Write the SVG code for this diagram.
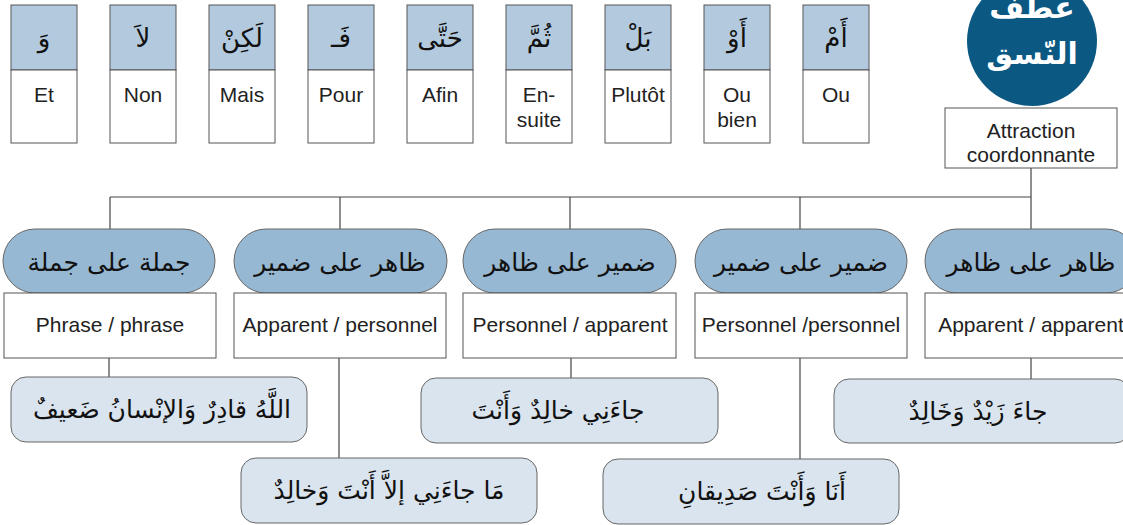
<svg xmlns="http://www.w3.org/2000/svg" width="1123" height="525" viewBox="0 0 1123 525">
  <style>
    .head { fill: #b3cade; stroke: #555; stroke-width: 1; }
    .cell { fill: #fff; stroke: #555; stroke-width: 1; }
    .pill { fill: #97b8d2; stroke: #666; stroke-width: 1; }
    .ex { fill: #d9e4ee; stroke: #666; stroke-width: 1; }
    .lbl { font-family: "Liberation Sans", Arial, sans-serif; font-size: 21px; fill: #222; text-anchor: middle; }
    .ar { font-family: "DejaVu Sans", sans-serif; fill: #111; text-anchor: middle; direction: rtl; }
    .arTop { font-size: 26px; }
    .arPill { font-size: 25px; }
    .arEx { font-size: 25px; }
    .title { font-family: "DejaVu Sans", sans-serif; font-weight: bold; font-size: 30px; fill: #fff; text-anchor: middle; direction: rtl; }
    .wire { fill: none; stroke: #444; stroke-width: 1.2; }
  </style>

  <!-- connectors -->
  <g id="connectors" class="wire">
    <path d="M1031 168 V229"/>
    <path d="M110 197 H1031"/>
    <path d="M110 197 V229"/>
    <path d="M340 197 V229"/>
    <path d="M570 197 V229"/>
    <path d="M800 197 V229"/>
    <path d="M109 358 V377"/>
    <path d="M339 358 V458"/>
    <path d="M571 358 V378"/>
    <path d="M800 358 V459"/>
    <path d="M1031 358 V379"/>
  </g>

  <!-- conjunction cards -->
  <g id="card-wa">
    <rect class="head" x="11" y="5" width="66" height="65"/>
    <rect class="cell" x="11" y="70" width="66" height="73"/>
    <text class="ar arTop" x="44" y="47">وَ</text>
    <text class="lbl" x="44" y="102">Et</text>
  </g>
  <g id="card-la">
    <rect class="head" x="110" y="5" width="66" height="65"/>
    <rect class="cell" x="110" y="70" width="66" height="73"/>
    <text class="ar arTop" x="143" y="47">لاَ</text>
    <text class="lbl" x="143" y="102">Non</text>
  </g>
  <g id="card-lakin">
    <rect class="head" x="209" y="5" width="66" height="65"/>
    <rect class="cell" x="209" y="70" width="66" height="73"/>
    <text class="ar arTop" x="242" y="47">لَكِنْ</text>
    <text class="lbl" x="242" y="102">Mais</text>
  </g>
  <g id="card-fa">
    <rect class="head" x="308" y="5" width="66" height="65"/>
    <rect class="cell" x="308" y="70" width="66" height="73"/>
    <text class="ar arTop" x="341" y="47">فَـ</text>
    <text class="lbl" x="341" y="102">Pour</text>
  </g>
  <g id="card-hatta">
    <rect class="head" x="407" y="5" width="66" height="65"/>
    <rect class="cell" x="407" y="70" width="66" height="73"/>
    <text class="ar arTop" x="440" y="47">حَتَّى</text>
    <text class="lbl" x="440" y="102">Afin</text>
  </g>
  <g id="card-thumma">
    <rect class="head" x="506" y="5" width="66" height="65"/>
    <rect class="cell" x="506" y="70" width="66" height="73"/>
    <text class="ar arTop" x="539" y="47">ثُمَّ</text>
    <text class="lbl" x="539" y="102">En-</text>
    <text class="lbl" x="539" y="127">suite</text>
  </g>
  <g id="card-bal">
    <rect class="head" x="605" y="5" width="66" height="65"/>
    <rect class="cell" x="605" y="70" width="66" height="73"/>
    <text class="ar arTop" x="638" y="47">بَلْ</text>
    <text class="lbl" x="638" y="102">Plutôt</text>
  </g>
  <g id="card-aw">
    <rect class="head" x="704" y="5" width="66" height="65"/>
    <rect class="cell" x="704" y="70" width="66" height="73"/>
    <text class="ar arTop" x="737" y="47">أَوْ</text>
    <text class="lbl" x="737" y="102">Ou</text>
    <text class="lbl" x="737" y="127">bien</text>
  </g>
  <g id="card-am">
    <rect class="head" x="803" y="5" width="66" height="65"/>
    <rect class="cell" x="803" y="70" width="66" height="73"/>
    <text class="ar arTop" x="836" y="47">أَمْ</text>
    <text class="lbl" x="836" y="102">Ou</text>
  </g>

  <!-- title badge (top line runs past the top edge) -->
  <g id="title">
    <circle cx="1032" cy="41" r="65" fill="#0b5883"/>
    <text class="title" x="1032" y="18">عطف</text>
    <text class="title" x="1032" y="64">النّسق</text>
  </g>
  <g id="root">
    <rect class="cell" x="945" y="108" width="172" height="60"/>
    <text class="lbl" x="1031" y="138">Attraction</text>
    <text class="lbl" x="1031" y="162">coordonnante</text>
  </g>

  <!-- categories -->
  <g id="cat-phrase">
    <rect class="pill" x="3" y="229" width="212" height="64" rx="32"/>
    <text class="ar arPill" x="109" y="271">جملة على جملة</text>
    <rect class="cell" x="4" y="293" width="212" height="65"/>
    <text class="lbl" x="110" y="332">Phrase / phrase</text>
  </g>
  <g id="cat-app-pers">
    <rect class="pill" x="234" y="229" width="213" height="64" rx="32"/>
    <text class="ar arPill" x="340" y="271">ظاهر على ضمير</text>
    <rect class="cell" x="234" y="293" width="212" height="65"/>
    <text class="lbl" x="340" y="332">Apparent / personnel</text>
  </g>
  <g id="cat-pers-app">
    <rect class="pill" x="463" y="229" width="213" height="64" rx="32"/>
    <text class="ar arPill" x="570" y="271">ضمير على ظاهر</text>
    <rect class="cell" x="463" y="293" width="213" height="65"/>
    <text class="lbl" x="570" y="332">Personnel / apparent</text>
  </g>
  <g id="cat-pers-pers">
    <rect class="pill" x="695" y="229" width="212" height="64" rx="32"/>
    <text class="ar arPill" x="801" y="271">ضمير على ضمير</text>
    <rect class="cell" x="695" y="293" width="212" height="65"/>
    <text class="lbl" x="801" y="332">Personnel /personnel</text>
  </g>
  <g id="cat-app-app">
    <rect class="pill" x="925" y="229" width="213" height="64" rx="32"/>
    <text class="ar arPill" x="1031" y="271">ظاهر على ظاهر</text>
    <rect class="cell" x="925" y="293" width="213" height="65"/>
    <text class="lbl" x="1031" y="332">Apparent / apparent</text>
  </g>

  <!-- examples -->
  <g id="ex-phrase">
    <rect class="ex" x="11" y="377" width="296" height="65" rx="15"/>
    <text class="ar arEx" x="162" y="418">اللَّهُ قادِرٌ وَالإنْسانُ ضَعيفٌ</text>
  </g>
  <g id="ex-app-pers">
    <rect class="ex" x="241" y="458" width="296" height="65" rx="15"/>
    <text class="ar arEx" x="389" y="499">مَا جاءَنِي إلاَّ أَنْتَ وَخالِدٌ</text>
  </g>
  <g id="ex-pers-app">
    <rect class="ex" x="421" y="378" width="297" height="65" rx="15"/>
    <text class="ar arEx" x="558" y="419">جاءَنِي خالِدٌ وَأَنْتَ</text>
  </g>
  <g id="ex-pers-pers">
    <rect class="ex" x="603" y="459" width="296" height="65" rx="15"/>
    <text class="ar arEx" x="762" y="500">أَنَا وَأَنْتَ صَدِيقانِ</text>
  </g>
  <g id="ex-app-app">
    <rect class="ex" x="834" y="379" width="296" height="64" rx="15"/>
    <text class="ar arEx" x="978" y="420">جاءَ زَيْدٌ وَخَالِدٌ</text>
  </g>
</svg>
